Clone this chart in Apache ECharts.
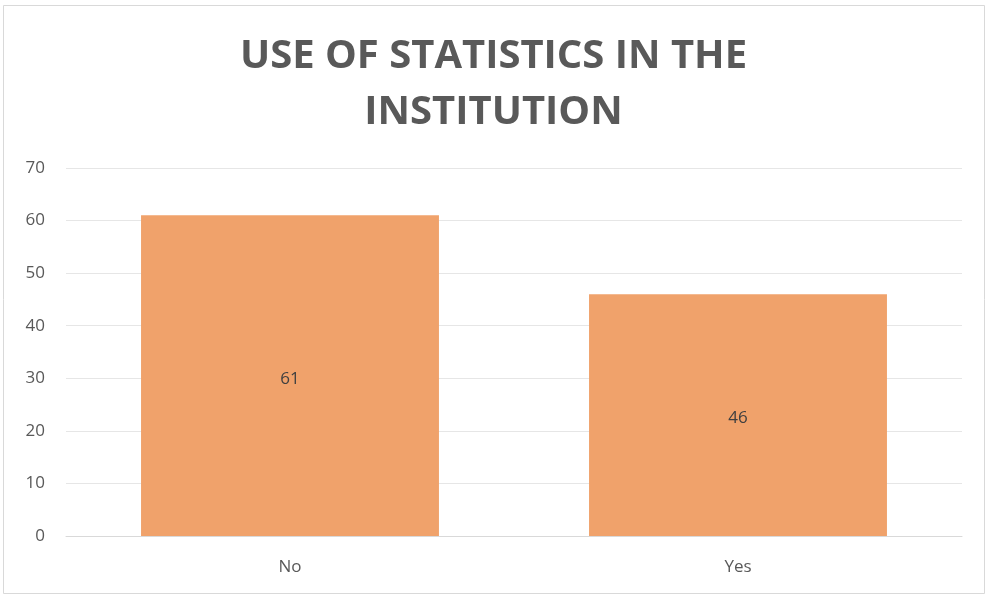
<!DOCTYPE html>
<html><head><meta charset="utf-8">
<script src="https://cdn.jsdelivr.net/npm/echarts@6/dist/echarts.min.js"></script>
<style>html,body{margin:0;padding:0;background:#fff}#c{width:987px;height:596px}</style>
</head><body><div id="c"></div>
<script>
const titleText = 'USE OF STATISTICS IN THE\nINSTITUTION';
const categories = ['No', 'Yes'];
const values = [61, 46];
const yTicks = {min: 0, max: 70, interval: 10};

const chart = echarts.init(document.getElementById('c'), null, {renderer: 'canvas'});
chart.setOption({
  animation: false,
  backgroundColor: '#fff',
  graphic: [{type: 'rect', shape: {x: 3.5, y: 5.5, width: 981, height: 588}, style: {fill: 'none', stroke: '#d9d9d9', lineWidth: 1}, silent: true}],
  title: {
    text: titleText, left: 'center', top: 24,
    textStyle: {fontFamily: 'Open Sans', fontWeight: 'bold', fontSize: 40, color: '#595959', lineHeight: 56}
  },
  grid: {left: 66, right: 25, top: 168, bottom: 60},
  xAxis: {
    type: 'category', data: categories,
    axisLine: {lineStyle: {color: '#d9d9d9', width: 1}},
    axisTick: {show: false},
    axisLabel: {color: '#595959', fontSize: 17, fontFamily: 'Open Sans', margin: 23}
  },
  yAxis: {
    type: 'value', min: yTicks.min, max: yTicks.max, interval: yTicks.interval,
    axisLine: {show: false}, axisTick: {show: false},
    splitLine: {lineStyle: {color: '#e6e6e6', width: 1}},
    axisLabel: {color: '#595959', fontSize: 17, fontFamily: 'Open Sans', margin: 21}
  },
  series: [{
    type: 'bar', data: values, barWidth: '66.5%',
    itemStyle: {color: '#F0A26B'},
    label: {show: true, position: 'inside', offset: [0, 3], color: '#404040', fontSize: 17, fontFamily: 'Open Sans'}
  }]
});
</script></body></html>
